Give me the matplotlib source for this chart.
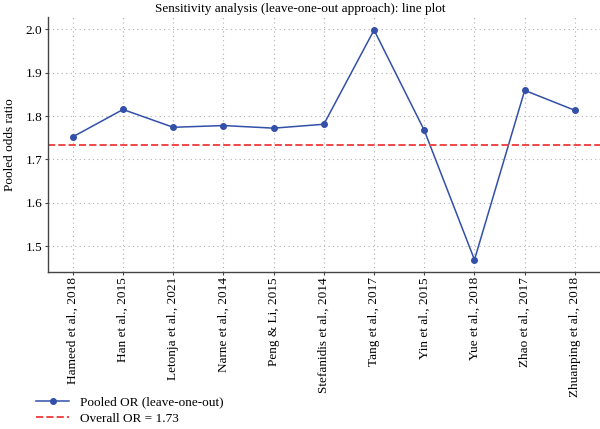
import numpy as np
import matplotlib
matplotlib.use("Agg")
import matplotlib.pyplot as plt

plt.rcParams['font.family'] = ['Liberation Serif', 'DejaVu Serif']

studies = ["Hameed et al., 2018", "Han et al., 2015", "Letonja et al., 2021",
           "Narne et al., 2014", "Peng & Li, 2015", "Stefanidis et al., 2014",
           "Tang et al., 2017", "Yin et al., 2015", "Yue et al., 2018",
           "Zhao et al., 2017", "Zhuanping et al., 2018"]
pooled_or = [1.752, 1.815, 1.774, 1.778, 1.772, 1.781, 1.998, 1.767, 1.469, 1.859, 1.813]
overall_or = 1.733

fig = plt.figure(figsize=(6.0, 4.29), dpi=100)
ax = fig.add_axes([0.0795, 0.3667, 0.9205, 0.5937])

x = np.arange(len(studies))
ax.plot(x, pooled_or, color='#3350a8', marker='o', markersize=4, linewidth=1.1,
        label='Pooled OR (leave-one-out)')
ax.axhline(overall_or, color='#f04848', linestyle='--', linewidth=1.4,
           label='Overall OR = %.2f' % overall_or)

ax.set_xlim(-0.5, len(studies) - 0.5)
ax.set_ylim(1.4415, 2.028)
ax.set_yticks([1.5, 1.6, 1.7, 1.8, 1.9, 2.0])
ax.set_xticks(x)
ax.set_xticklabels(studies, rotation=90, fontsize=9.5)
ax.tick_params(axis='y', labelsize=9.5, length=2, width=0.8, color='#444444', pad=2)
ax.tick_params(axis='x', length=2, width=0.8, color='#444444', pad=2)
ax.grid(True, linestyle=(0, (1, 3)), color='#b0b0b0', linewidth=0.8)

for s in ['top', 'right']:
    ax.spines[s].set_visible(False)
for s in ['left', 'bottom']:
    ax.spines[s].set_color('#444444')
    ax.spines[s].set_linewidth(1.0)

ax.set_ylabel('Pooled odds ratio', fontsize=9.5)
ax.yaxis.set_label_coords(-0.058, 0.5)
fig.suptitle('Sensitivity analysis (leave-one-out approach): line plot', fontsize=9.5, y=0.992)

fig.legend(loc='upper left', bbox_to_anchor=(0.052, 0.088), frameon=False,
           fontsize=9.5, handlelength=2.5, handletextpad=0.8, labelspacing=0.3,
           borderaxespad=0)

fig.savefig('out.png', dpi=100)
